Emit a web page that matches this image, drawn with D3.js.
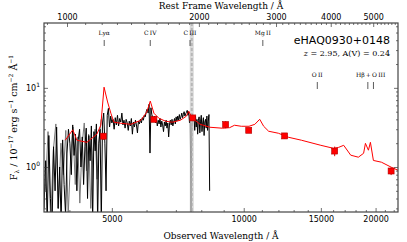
<!DOCTYPE html>
<meta charset="utf-8">
<style>
body { margin: 0; background: #fff; }
.tick text { font: 8px "DejaVu Sans", sans-serif; fill: #000; }
.serif { font-family: "DejaVu Serif", serif; }
</style>
<body>
<div id="chart"></div>
</body>
<script src="https://d3js.org/d3.v7.min.js"></script>
<script>
// redshift of the quasar
var zQSO = 2.95;

// observed spectrum: flux on a regular wavelength grid (start / step in Angstrom)
var specLam0 = 3500, specDLam = 30;
var specFlux = [
	0.3, 1.2, 0.2, 2.5, 0.4, 0.15, 1.8, 0.5, 3.2, 0.3, 1.0, 0.2, 2.2, 0.6, 0.25, 1.5, 3.0,
	2.0, 0.8, 3.4, 1.4, 2.6, 0.5, 2.2, 3.0, 1.0, 2.4, 0.6, 1.8, 3.1, 0.4, 2.5, 1.2, 3.3, 0.2, 2.8, 1.6, 3.5, 0.2, 2.0, 3.0,
	0.2, 3.6, 4.8, 2.0, 0.5, 4.5, 5.5,
	3.2, 4.4, 3.6, 4.0, 3.0, 4.2, 3.4, 4.5, 3.3, 4.1, 3.7, 4.8, 3.4, 3.9, 3.1, 4.0, 3.6, 2.9, 3.8, 3.3,
	4.1, 2.6, 3.7, 3.2, 3.9, 3.4, 2.7, 3.8, 3.5, 4.0, 3.6, 4.2, 3.9, 4.5, 4.3, 5.0,
	5.4, 4.8, 6.2, 1.5, 5.6, 4.6, 4.2,
	3.8, 4.4, 3.6, 4.0, 3.3, 3.9, 3.5, 4.1, 3.2, 3.8, 3.4, 2.8, 3.7, 3.3, 3.9, 3.1, 3.6, 2.4, 3.5, 3.9,
	3.4, 4.0, 3.3, 3.7, 4.1, 3.5, 4.3, 3.8, 4.4, 3.9, 4.6, 4.0, 4.3, 4.8, 4.2, 4.6, 5.0, 4.4, 4.7, 4.9,
	5.2, 4.5, 5.0, 3.6, 4.3, 0.2, 3.0, 4.6, 3.8, 4.2, 2.9, 4.4, 3.2, 4.0, 2.6, 3.9, 4.3, 2.7, 3.8, 4.5,
	2.8, 3.6, 4.2, 2.5, 3.7, 4.0, 3.1, 4.4, 2.9, 3.8, 4.6, 0.5
];

// unbinned blue end of the spectrum (grey)
var rawLam0 = 3525, rawDLam = 50;
var rawFlux = [0.5, 2.8, 0.2, 1.6, 3.5, 0.3, 2.0, 0.8, 2.9, 0.25, 1.3, 3.2, 0.6, 2.4, 0.35,
	1.9, 3.6, 0.9, 2.6, 0.3, 1.5, 3.0, 0.7, 2.2, 4.0];

// reddened quasar template
var modelLam = [3914, 4072, 4160, 4384, 4620, 4718, 4799, 4889, 4974, 5053, 5240, 5522, 5824, 6006, 6119,
	6237, 6400, 6630, 6874, 7168, 7395, 7490, 7626, 7949, 8366, 8954, 9285, 9527, 9873, 10282, 10601,
	10877, 11105, 11400, 11999, 12630, 13542, 14997, 16040, 16470, 16913, 17551, 18268, 18779, 18959,
	19261, 19463, 19770, 20624, 21749, 22500];
var modelFlux = [2.18, 2.95, 2.18, 2.05, 2.59, 3.37, 10.2, 6.63, 4.78, 3.68, 3.57, 3.46, 3.9, 4.93, 6.8,
	4.78, 4.14, 3.79, 3.68, 3.9, 4.38, 5.06, 4.14, 3.47, 3.18, 3.09, 3.14, 3.37, 3.27, 3.27, 3.46,
	4.01, 3.27, 2.83, 2.67, 2.38, 2.18, 1.88, 1.72, 1.77, 1.88, 1.41, 1.33, 1.49, 1.99,
	1.63, 2.05, 1.21, 1.15, 0.99, 0.91];

// broad band photometry
var photLam = [4780, 6237, 7650, 9093, 10266, 12400, 16130, 21700];
var photFlux = [2.45, 4.0, 4.17, 3.44, 2.91, 2.47, 1.59, 0.89];
var photErr = [0.25, 0.3, 0.3, 0.35, 0.2, 0.2, 0.22, 0.1];

// emission lines (rest frame)
var lineNames = ["Ly\u03b1", "C\u2009IV", "C\u2009III", "Mg\u2009II", "O\u2009II", "H\u03b2", "O\u2009III"];
var lineRest = [1216, 1549, 1909, 2799, 3727, 4861, 5007];
var lineRow = [0, 0, 0, 0, 1, 1, 1];

// telluric A band
var telluric = [7530, 7690];

var xTicks = [5000, 10000, 15000, 20000];
var restTicks = [1000, 2000, 3000, 4000, 5000];
var yTicks = [1, 10];

var width = 407, height = 242,
	pL = 44, pR = 398, pT = 23, pB = 212;

var x = d3.scaleLog().domain([3500, 22500]).range([pL, pR]);
var xRest = d3.scaleLog().domain([3500 / (1 + zQSO), 22500 / (1 + zQSO)]).range([pL, pR]);
var y = d3.scaleLog().domain([0.27, 66]).range([pB, pT]);

var svg = d3.select("#chart").append("svg")
	.attr("width", width)
	.attr("height", height);

svg.append("clipPath").attr("id", "clip")
	.append("rect")
	.attr("x", pL).attr("y", pT)
	.attr("width", pR - pL).attr("height", pB - pT);

var plot = svg.append("g").attr("clip-path", "url(#clip)");

var spec = specFlux.map(function(f, i) { return [specLam0 + i * specDLam, f]; });
var raw = rawFlux.map(function(f, i) { return [rawLam0 + i * rawDLam, f]; });
var model = modelLam.map(function(l, i) { return [l, modelFlux[i]]; });

var line = d3.line()
	.x(function(d) { return x(d[0]); })
	.y(function(d) { return y(Math.max(d[1], 0.05)); });

plot.append("path").datum(raw)
	.attr("d", line)
	.attr("fill", "none")
	.attr("stroke", "#777")
	.attr("stroke-width", 1);

plot.append("path").datum(spec)
	.attr("d", line)
	.attr("fill", "none")
	.attr("stroke", "#000")
	.attr("stroke-width", 1);

// telluric band
plot.append("rect")
	.attr("x", x(telluric[0]))
	.attr("y", pT)
	.attr("width", x(telluric[1]) - x(telluric[0]))
	.attr("height", pB - pT)
	.attr("fill", "#ccc")
	.attr("opacity", 0.75);
plot.append("line")
	.attr("x1", x(d3.mean(telluric))).attr("x2", x(d3.mean(telluric)))
	.attr("y1", pT).attr("y2", pB)
	.attr("stroke", "#aaa")
	.attr("stroke-width", 2)
	.attr("stroke-dasharray", "3,2")
	.attr("opacity", 0.7);

plot.append("path").datum(model)
	.attr("d", line)
	.attr("fill", "none")
	.attr("stroke", "#ff0000")
	.attr("stroke-width", 1);

// photometry
var phot = plot.selectAll(".phot")
	.data(photLam.map(function(l, i) { return {l: l, f: photFlux[i], e: photErr[i]}; }))
	.enter().append("g").attr("class", "phot");

phot.append("line")
	.attr("x1", function(d) { return x(d.l); })
	.attr("x2", function(d) { return x(d.l); })
	.attr("y1", function(d) { return y(d.f + d.e); })
	.attr("y2", function(d) { return y(d.f - d.e); })
	.attr("stroke", "#e00000");
phot.append("rect")
	.attr("x", function(d) { return x(d.l) - 3; })
	.attr("y", function(d) { return y(d.f) - 3; })
	.attr("width", 6).attr("height", 6)
	.attr("fill", "#ff0000")
	.attr("stroke", "#b00000")
	.attr("stroke-width", 0.6);

// line markers
var lines = svg.selectAll(".eline")
	.data(lineRest.map(function(r, i) { return {name: lineNames[i], lam: r * (1 + zQSO), row: lineRow[i]}; }))
	.enter().append("g").attr("class", "eline");

lines.append("line")
	.attr("x1", function(d) { return x(d.lam); })
	.attr("x2", function(d) { return x(d.lam); })
	.attr("y1", function(d) { return d.row ? 82 : 40; })
	.attr("y2", function(d) { return d.row ? 89 : 46; })
	.attr("stroke", "#333")
	.attr("stroke-width", 0.8);

lines.filter(function(d) { return d.name !== "H\u03b2" && d.name !== "O\u2009III"; })
	.append("text")
	.attr("class", "serif")
	.attr("x", function(d) { return x(d.lam); })
	.attr("y", function(d) { return d.row ? 77 : 35; })
	.attr("text-anchor", "middle")
	.attr("font-size", 6)
	.text(function(d) { return d.name; });

svg.append("text")
	.attr("class", "serif")
	.attr("x", (x(lineRest[5] * (1 + zQSO)) + x(lineRest[6] * (1 + zQSO))) / 2)
	.attr("y", 77)
	.attr("text-anchor", "middle")
	.attr("font-size", 6)
	.text("H\u03b2\u2009+\u2009O\u2009III");

// axes (ticks pointing inwards)
function minorRange(lo, hi, step) {
	var out = [];
	for (var v = lo; v <= hi; v += step) out.push(v);
	return out;
}
var xMinor = minorRange(4000, 22000, 1000).filter(function(v) { return xTicks.indexOf(v) < 0; });
var restMinor = minorRange(900, 5600, 100).filter(function(v) { return restTicks.indexOf(v) < 0; });
var yMinor = [0.3, 0.4, 0.5, 0.6, 0.7, 0.8, 0.9, 2, 3, 4, 5, 6, 7, 8, 9, 20, 30, 40, 50, 60];

function styleAxis(g) {
	g.select(".domain").remove();
	g.selectAll(".tick line").attr("stroke", "#333").attr("stroke-width", 0.7);
}

svg.append("g").attr("transform", "translate(0," + pB + ")")
	.call(d3.axisBottom(x).tickValues(xTicks).tickSize(-4).tickPadding(4).tickFormat(d3.format("d")))
	.call(styleAxis);
svg.append("g").attr("transform", "translate(0," + pB + ")")
	.call(d3.axisBottom(x).tickValues(xMinor).tickSize(-2).tickFormat(""))
	.call(styleAxis);

svg.append("g").attr("transform", "translate(0," + pT + ")")
	.call(d3.axisTop(xRest).tickValues(restTicks).tickSize(-4).tickPadding(3).tickFormat(d3.format("d")))
	.call(styleAxis);
svg.append("g").attr("transform", "translate(0," + pT + ")")
	.call(d3.axisTop(xRest).tickValues(restMinor).tickSize(-2).tickFormat(""))
	.call(styleAxis);

var yAxis = svg.append("g").attr("transform", "translate(" + pL + ",0)")
	.call(d3.axisLeft(y).tickValues(yTicks).tickSize(-4).tickPadding(4).tickFormat(""))
	.call(styleAxis);
yAxis.selectAll(".tick text").each(function(d) {
	var t = d3.select(this);
	t.append("tspan").text("10");
	t.append("tspan").attr("dy", -4).attr("font-size", 6).text(Math.round(Math.log10(d)));
});
svg.append("g").attr("transform", "translate(" + pL + ",0)")
	.call(d3.axisLeft(y).tickValues(yMinor).tickSize(-2).tickFormat(""))
	.call(styleAxis);
svg.append("g").attr("transform", "translate(" + pR + ",0)")
	.call(d3.axisRight(y).tickValues(yTicks).tickSize(-4).tickFormat(""))
	.call(styleAxis);
svg.append("g").attr("transform", "translate(" + pR + ",0)")
	.call(d3.axisRight(y).tickValues(yMinor).tickSize(-2).tickFormat(""))
	.call(styleAxis);

// frame
svg.append("rect")
	.attr("x", pL).attr("y", pT)
	.attr("width", pR - pL).attr("height", pB - pT)
	.attr("fill", "none")
	.attr("stroke", "#444")
	.attr("stroke-width", 1.2);

// titles
svg.append("text").attr("class", "serif")
	.attr("x", (pL + pR) / 2).attr("y", 9)
	.attr("text-anchor", "middle").attr("font-size", 9)
	.text("Rest Frame Wavelength / \u00c5");

svg.append("text").attr("class", "serif")
	.attr("x", (pL + pR) / 2).attr("y", 239)
	.attr("text-anchor", "middle").attr("font-size", 9)
	.text("Observed Wavelength / \u00c5");

var yl = svg.append("text").attr("class", "serif")
	.attr("transform", "translate(17," + ((pT + pB) / 2) + ") rotate(-90)")
	.attr("text-anchor", "middle").attr("font-size", 9.5);
yl.append("tspan").text("F");
yl.append("tspan").attr("dy", 2).attr("font-size", 6).text("\u03bb");
yl.append("tspan").attr("dy", -2).text(" / 10");
yl.append("tspan").attr("dy", -4).attr("font-size", 6).text("\u221217");
yl.append("tspan").attr("dy", 4).text(" erg s");
yl.append("tspan").attr("dy", -4).attr("font-size", 6).text("\u22121");
yl.append("tspan").attr("dy", 4).text(" cm");
yl.append("tspan").attr("dy", -4).attr("font-size", 6).text("\u22122");
yl.append("tspan").attr("dy", 4).text(" \u00c5");
yl.append("tspan").attr("dy", -4).attr("font-size", 6).text("\u22121");

svg.append("text")
	.attr("x", 390).attr("y", 44)
	.attr("text-anchor", "end")
	.attr("font-family", "DejaVu Sans, sans-serif")
	.attr("font-size", 11)
	.text("eHAQ0930+0148");

var zt = svg.append("text").attr("class", "serif")
	.attr("x", 390).attr("y", 56)
	.attr("text-anchor", "end").attr("font-size", 8);
zt.append("tspan").attr("font-style", "italic").text("z");
zt.append("tspan").text(" = 2.95, A(V) = 0.24");
</script>
